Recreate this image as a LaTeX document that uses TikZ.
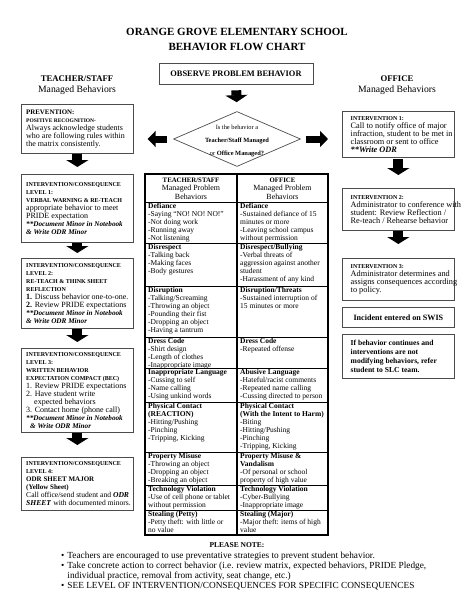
\documentclass[tikz,border=0pt]{standalone}
\usepackage{fontspec}
\setmainfont{Liberation Serif}
\usetikzlibrary{arrows.meta,shapes.geometric}

\newcommand\fsz[2]{\fontsize{#1}{#2}\selectfont}
\newcommand\hd[1]{{\fsz{6}{8}\bfseries #1}}
\newcommand\bi[1]{\textbf{\textit{#1}}}
\newcommand\doc[1]{{\fsz{7.2}{8}\bfseries\itshape #1}}

\tikzset{
  frame/.style={draw=black!70, line width=0.7pt, anchor=north west, minimum width=112pt,
    inner sep=0pt},
  boxtext/.style={anchor=west, xshift=5pt, align=left, inner sep=0pt, font=\fsz{8}{8}},
  rboxtext/.style={boxtext, xshift=3.5pt, font=\fsz{8.3}{8}},
  decision/.style={diamond, draw=black!70, line width=0.7pt, minimum width=127pt,
    minimum height=55pt, inner sep=0pt},
  blk/.style={line width=10pt, -{Triangle[width=22pt,length=7pt]}},
  blkh/.style={line width=7pt, -{Triangle[width=16pt,length=8pt]}},
  cell/.style={anchor=north west, align=left, inner sep=0pt, font=\fsz{7.5}{8}},
  hcell/.style={align=center, inner sep=0pt, font=\fsz{7.9}{8.5}},
  rowline/.style={line width=0.6pt},
}

\begin{document}
\begin{tikzpicture}[x=1pt,y=-1pt]
\useasboundingbox (0,0) rectangle (474,613);

% heading
\node[font=\fsz{11}{15}\bfseries, align=center] (title) at (237,39.5)
  {ORANGE GROVE ELEMENTARY SCHOOL\\BEHAVIOR FLOW CHART};
\node[draw=black!70, line width=0.7pt, minimum width=154pt, minimum height=21pt,
  font=\fsz{8.4}{10}\bfseries] (obs) at (236,73.5) {OBSERVE PROBLEM BEHAVIOR};
\node[font=\fsz{9.7}{11}, align=center] (tsHead) at (77,85)
  {{\fsz{8.7}{11}\bfseries TEACHER/STAFF}\\Managed Behaviors};
\node[font=\fsz{9.7}{11}, align=center] (ofHead) at (397,85)
  {{\fsz{8.7}{11}\bfseries OFFICE}\\Managed Behaviors};

% decision
\node[decision] (dia) at (237,139) {};
\node[font=\fsz{6.4}{13}, align=center, inner sep=0pt] (diaTxt) at (237,140.5)
  {Is the behavior a\\\textbf{Teacher/Staff Managed}\\or \textbf{Office Managed?}};

% teacher/staff side
\node[frame, minimum height=49pt] (prev) at (21,104) {};
\node[boxtext] (prevTxt) at (prev.west)
  {{\fsz{6.9}{8}\bfseries PREVENTION:}\\{\fsz{5.5}{8}\bfseries POSITIVE RECOGNITION-}\\
   Always acknowledge students\\who are following rules within\\the matrix consistently.};
\node[frame, minimum height=68pt] (lev1) at (21,174) {};
\node[boxtext] (lev1Txt) at (lev1.west)
  {\hd{INTERVENTION/CONSEQUENCE}\\\hd{LEVEL 1:}\\\hd{VERBAL WARNING \& RE-TEACH}\\
   appropriate behavior to meet\\PRIDE expectation\\
   \doc{**Document Minor in Notebook}\\\doc{\& Write ODR Minor}};
\node[frame, minimum height=70pt] (lev2) at (21,258) {};
\node[boxtext] (lev2Txt) at (lev2.west)
  {\hd{INTERVENTION/CONSEQUENCE}\\\hd{LEVEL 2:}\\\hd{RE-TEACH \& THINK SHEET}\\\hd{REFLECTION}\\
   \textbf{1.} Discuss behavior one-to-one.\\\textbf{2.} Review PRIDE expectations\\
   \doc{**Document Minor in Notebook}\\\doc{\& Write ODR Minor}};
\node[frame, minimum height=84pt] (lev3) at (21,348) {};
\node[boxtext] (lev3Txt) at (lev3.west)
  {\hd{INTERVENTION/CONSEQUENCE}\\\hd{LEVEL 3:}\\\hd{WRITTEN BEHAVIOR}\\\hd{EXPECTATION COMPACT (BEC)}\\
   1. Review PRIDE expectations\\2. Have student write\\\hspace*{8pt}expected behaviors\\
   3. Contact home (phone call)\\\doc{**Document Minor in Notebook}\\\hspace*{4pt}\doc{\& Write ODR Minor}};
\node[frame, minimum height=53pt] (lev4) at (21,457) {};
\node[boxtext, font=\fsz{7.6}{8}] (lev4Txt) at (lev4.west)
  {\hd{INTERVENTION/CONSEQUENCE}\\\hd{LEVEL 4:}\\{\fsz{7}{8}\bfseries ODR SHEET MAJOR}\\
   {\fsz{7}{8}\bfseries (Yellow Sheet)}\\Call office/send student and \bi{ODR}\\
   \bi{SHEET} with documented minors.};

% office side
\node[frame, minimum height=46pt] (int1) at (342,111) {};
\node[rboxtext] (int1Txt) at (int1.west)
  {\hd{INTERVENTION 1:}\\Call to notify office of major\\infraction, student to be met in\\
   classroom or sent to office\\\bi{**Write ODR}};
\node[frame, minimum height=42pt] (int2) at (342,188) {};
\node[rboxtext] (int2Txt) at (int2.west)
  {\hd{INTERVENTION 2:}\\Administrator to conference with\\student: Review Reflection /\\
   Re-teach / Rehearse behavior};
\node[frame, minimum height=42pt] (int3) at (342,258) {};
\node[rboxtext] (int3Txt) at (int3.west)
  {\hd{INTERVENTION 3:}\\Administrator determines and\\assigns consequences according\\to policy.};
\node[frame, minimum height=20pt, font=\fsz{8.1}{9}\bfseries] (swis) at (342,307)
  {Incident entered on SWIS};
\node[frame, minimum height=44pt] (slc) at (342,334) {};
\node[rboxtext, font=\fsz{7.6}{8.7}\bfseries] (slcTxt) at (slc.west)
  {If behavior continues and\\interventions are not\\modifying behaviors, refer\\student to SLC team.};

% block arrows
\draw[blk, shorten <=6pt, shorten >=9pt] (obs.south) -- (dia.north);
\draw[blkh, shorten <=6pt, shorten >=14pt] (dia.west) -- (dia.west -| prev.east);
\draw[blkh, shorten <=5pt, shorten >=14pt] (dia.east) -- (dia.east -| int1.west);
\draw[blk, shorten >=7pt] (prev.south) -- (lev1.north);
\draw[blk, shorten >=5pt] (lev1.south) -- (lev2.north);
\draw[blk, shorten >=6pt] (lev2.south) -- (lev3.north);
\draw[blk, shorten >=12pt] (lev3.south) -- (lev4.north);
\draw[blk, shorten <=1pt, shorten >=13pt] (int1.south) -- (int2.north);
\draw[blk, shorten >=14pt] (int2.south) -- (int3.north);

% behavior table
\draw[line width=1.6pt] (145,174) rectangle (328,535);
\draw[line width=1.6pt] (237,174) -- (237,535);
\foreach \y in {202,243,286,337,368,402,452,485,510}
  \draw[rowline] (145,\y) -- (328,\y);
\node[hcell] (hdT) at (191,188.5)
  {{\fsz{6.8}{8.5}\bfseries TEACHER/STAFF}\\Managed Problem\\Behaviors};
\node[hcell] (hdO) at (282.5,188.5)
  {{\fsz{6.8}{8.5}\bfseries OFFICE}\\Managed Problem\\Behaviors};
\node[cell] (defT) at (148,203.2) {\textbf{Defiance}\\-Saying ``NO! NO! NO!''\\-Not doing work\\-Running away\\-Not listening};
\node[cell] (defO) at (240,203.2) {\textbf{Defiance}\\-Sustained defiance of 15\\minutes or more\\-Leaving school campus\\without permission};
\node[cell] (resT) at (148,244.2) {\textbf{Disrespect}\\-Talking back\\-Making faces\\-Body gestures};
\node[cell] (resO) at (240,244.2) {\textbf{Disrespect/Bullying}\\-Verbal threats of\\aggression against another\\student\\-Harassment of any kind};
\node[cell] (rupT) at (148,287.2) {\textbf{Disruption}\\-Talking/Screaming\\-Throwing an object\\-Pounding their fist\\-Dropping an object\\-Having a tantrum};
\node[cell] (rupO) at (240,287.2) {\textbf{Disruption/Threats}\\-Sustained interruption of\\15 minutes or more};
\node[cell] (dressT) at (148,338.2) {\textbf{Dress Code}\\-Shirt design\\-Length of clothes\\-Inappropriate image};
\node[cell] (dressO) at (240,338.2) {\textbf{Dress Code}\\-Repeated offense};
\node[cell] (langT) at (148,369.2) {\textbf{Inappropriate Language}\\-Cussing to self\\-Name calling\\-Using unkind words};
\node[cell] (langO) at (240,369.2) {\textbf{Abusive Language}\\-Hateful/racist comments\\-Repeated name calling\\-Cussing directed to person};
\node[cell] (physT) at (148,403.2) {\textbf{Physical Contact}\\\textbf{(REACTION)}\\-Hitting/Pushing\\-Pinching\\-Tripping, Kicking};
\node[cell] (physO) at (240,403.2) {\textbf{Physical Contact}\\\textbf{(With the Intent to Harm)}\\-Biting\\-Hitting/Pushing\\-Pinching\\-Tripping, Kicking};
\node[cell] (propT) at (148,453.2) {\textbf{Property Misuse}\\-Throwing an object\\-Dropping an object\\-Breaking an object};
\node[cell] (propO) at (240,453.2) {\textbf{Property Misuse \&}\\\textbf{Vandalism}\\-Of personal or school\\property of high value};
\node[cell] (techT) at (148,486.2) {\textbf{Technology Violation}\\-Use of cell phone or tablet\\without permission};
\node[cell] (techO) at (240,486.2) {\textbf{Technology Violation}\\-Cyber-Bullying\\-Inappropriate image};
\node[cell] (stealT) at (148,511) {\textbf{Stealing (Petty)}\\-Petty theft: with little or\\no value};
\node[cell] (stealO) at (240,511) {\textbf{Stealing (Major)}\\-Major theft: items of high\\value};

% notes
\node[font=\fsz{7.5}{10}\bfseries] (noteHead) at (237,545) {PLEASE NOTE:};
\node[anchor=north west, align=left, inner sep=0pt, font=\fsz{9.3}{10}] (notes) at (61,551.5)
  {\textbullet\hspace{3pt}Teachers are encouraged to use preventative strategies to prevent student behavior.\\
   \textbullet\hspace{3pt}Take concrete action to correct behavior (i.e. review matrix, expected behaviors, PRIDE Pledge,\\
   \phantom{\textbullet}\hspace{3pt}individual practice, removal from activity, seat change, etc.)\\
   \textbullet\hspace{3pt}SEE LEVEL OF INTERVENTION/CONSEQUENCES FOR SPECIFIC CONSEQUENCES};
\end{tikzpicture}
\end{document}
